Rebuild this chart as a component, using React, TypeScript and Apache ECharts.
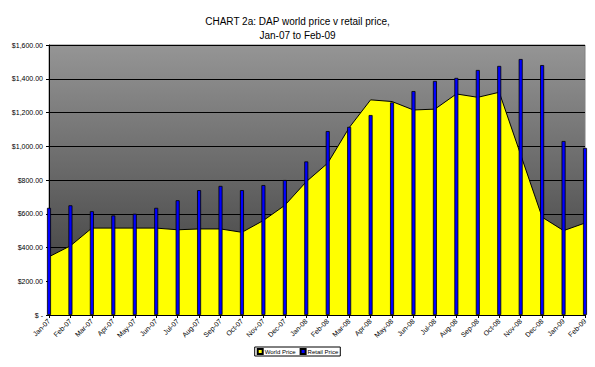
import React, { useEffect, useRef } from "react";
import * as echarts from "echarts";

const categories = [
  "Jan-07", "Feb-07", "Mar-07", "Apr-07", "May-07", "Jun-07", "Jul-07", "Aug-07", "Sep-07", "Oct-07", "Nov-07", "Dec-07",
  "Jan-08", "Feb-08", "Mar-08", "Apr-08", "May-08", "Jun-08", "Jul-08", "Aug-08", "Sep-08", "Oct-08", "Nov-08", "Dec-08",
  "Jan-09", "Feb-09",
];

const worldPrice = [
  345, 410, 515, 515, 515, 515, 505, 510, 510, 490, 560, 650,
  790, 900, 1110, 1275, 1265, 1215, 1220, 1310, 1290, 1320, 950, 580,
  500, 545,
];

const retailPrice = [
  635, 650, 615, 590, 600, 635, 680, 740, 765, 740, 770, 800,
  910, 1090, 1115, 1185, 1260, 1327, 1387, 1405, 1452, 1476, 1517, 1481,
  1031, 990,
];

const yTicks = [0, 200, 400, 600, 800, 1000, 1200, 1400, 1600];

const fmt = (v: number) =>
  v === 0
    ? "$ -"
    : "$" + v.toLocaleString("en-US", { minimumFractionDigits: 2, maximumFractionDigits: 2 });

export default function App() {
  const ref = useRef<HTMLDivElement>(null);
  useEffect(() => {
    document.body.style.margin = "0";
    if (!ref.current) return;
    const chart = echarts.init(ref.current, undefined, { renderer: "svg" });
    chart.setOption({
      animation: false,
      backgroundColor: "#ffffff",
      textStyle: { fontFamily: "Liberation Sans, Arial, sans-serif" },
      title: {
        text: "CHART 2a: DAP world price v retail price,\nJan-07 to Feb-09",
        left: "center",
        top: 9,
        textStyle: { fontSize: 10, fontWeight: "normal", color: "#000", lineHeight: 14 },
      },
      legend: {
        top: 347,
        left: "center",
        icon: "rect",
        itemWidth: 5,
        itemHeight: 5,
        itemGap: 4,
        padding: [1, 2, 1, 2],
        borderColor: "#000",
        borderWidth: 1,
        textStyle: { fontSize: 6, color: "#000", padding: [0, 0, 0, -3] },
        data: ["World Price", "Retail Price"],
      },
      grid: {
        left: 49,
        right: 10,
        top: 45,
        bottom: 52,
        show: true,
        borderColor: "#808080",
        borderWidth: 1,
        backgroundColor: new echarts.graphic.LinearGradient(0, 0, 0, 1, [
          { offset: 0, color: "#959595" },
          { offset: 1, color: "#363636" },
        ]),
      },
      xAxis: [
        {
          type: "category",
          data: categories,
          boundaryGap: false,
          axisLine: { lineStyle: { color: "#000", width: 1 } },
          axisTick: { show: true, length: 3, lineStyle: { color: "#000" } },
          axisLabel: { rotate: 45, fontSize: 7, color: "#000", margin: 5, interval: 0 },
          splitLine: { show: false },
        },
        {
          type: "value",
          min: 0,
          max: categories.length - 1,
          show: false,
          splitLine: { show: false },
        },
      ],
      yAxis: {
        type: "value",
        min: 0,
        max: 1600,
        interval: 200,
        axisLine: { show: true, lineStyle: { color: "#000", width: 1 } },
        axisTick: { show: true, length: 3, lineStyle: { color: "#000" } },
        axisLabel: { fontSize: 7, color: "#000", margin: 6, formatter: (v: number) => fmt(v), customValues: yTicks },
        splitLine: { show: true, lineStyle: { color: "#000", width: 1 } },
      },
      series: [
        {
          name: "World Price",
          type: "line",
          data: worldPrice,
          xAxisIndex: 0,
          symbol: "none",
          lineStyle: { color: "#000", width: 1 },
          itemStyle: { color: "#ffff00", borderColor: "#000", borderWidth: 1 },
          areaStyle: { color: "#ffff00", opacity: 1 },
          z: 2,
        },
        {
          name: "Retail Price",
          type: "bar",
          xAxisIndex: 1,
          data: retailPrice.map((v, i) => [i, v]),
          barWidth: 4,
          clip: true,
          itemStyle: { color: "#0000ff", borderColor: "#000", borderWidth: 0.8 },
          z: 3,
        },
      ],
    });
    return () => chart.dispose();
  }, []);
  return <div ref={ref} style={{ width: 595, height: 367 }} />;
}
